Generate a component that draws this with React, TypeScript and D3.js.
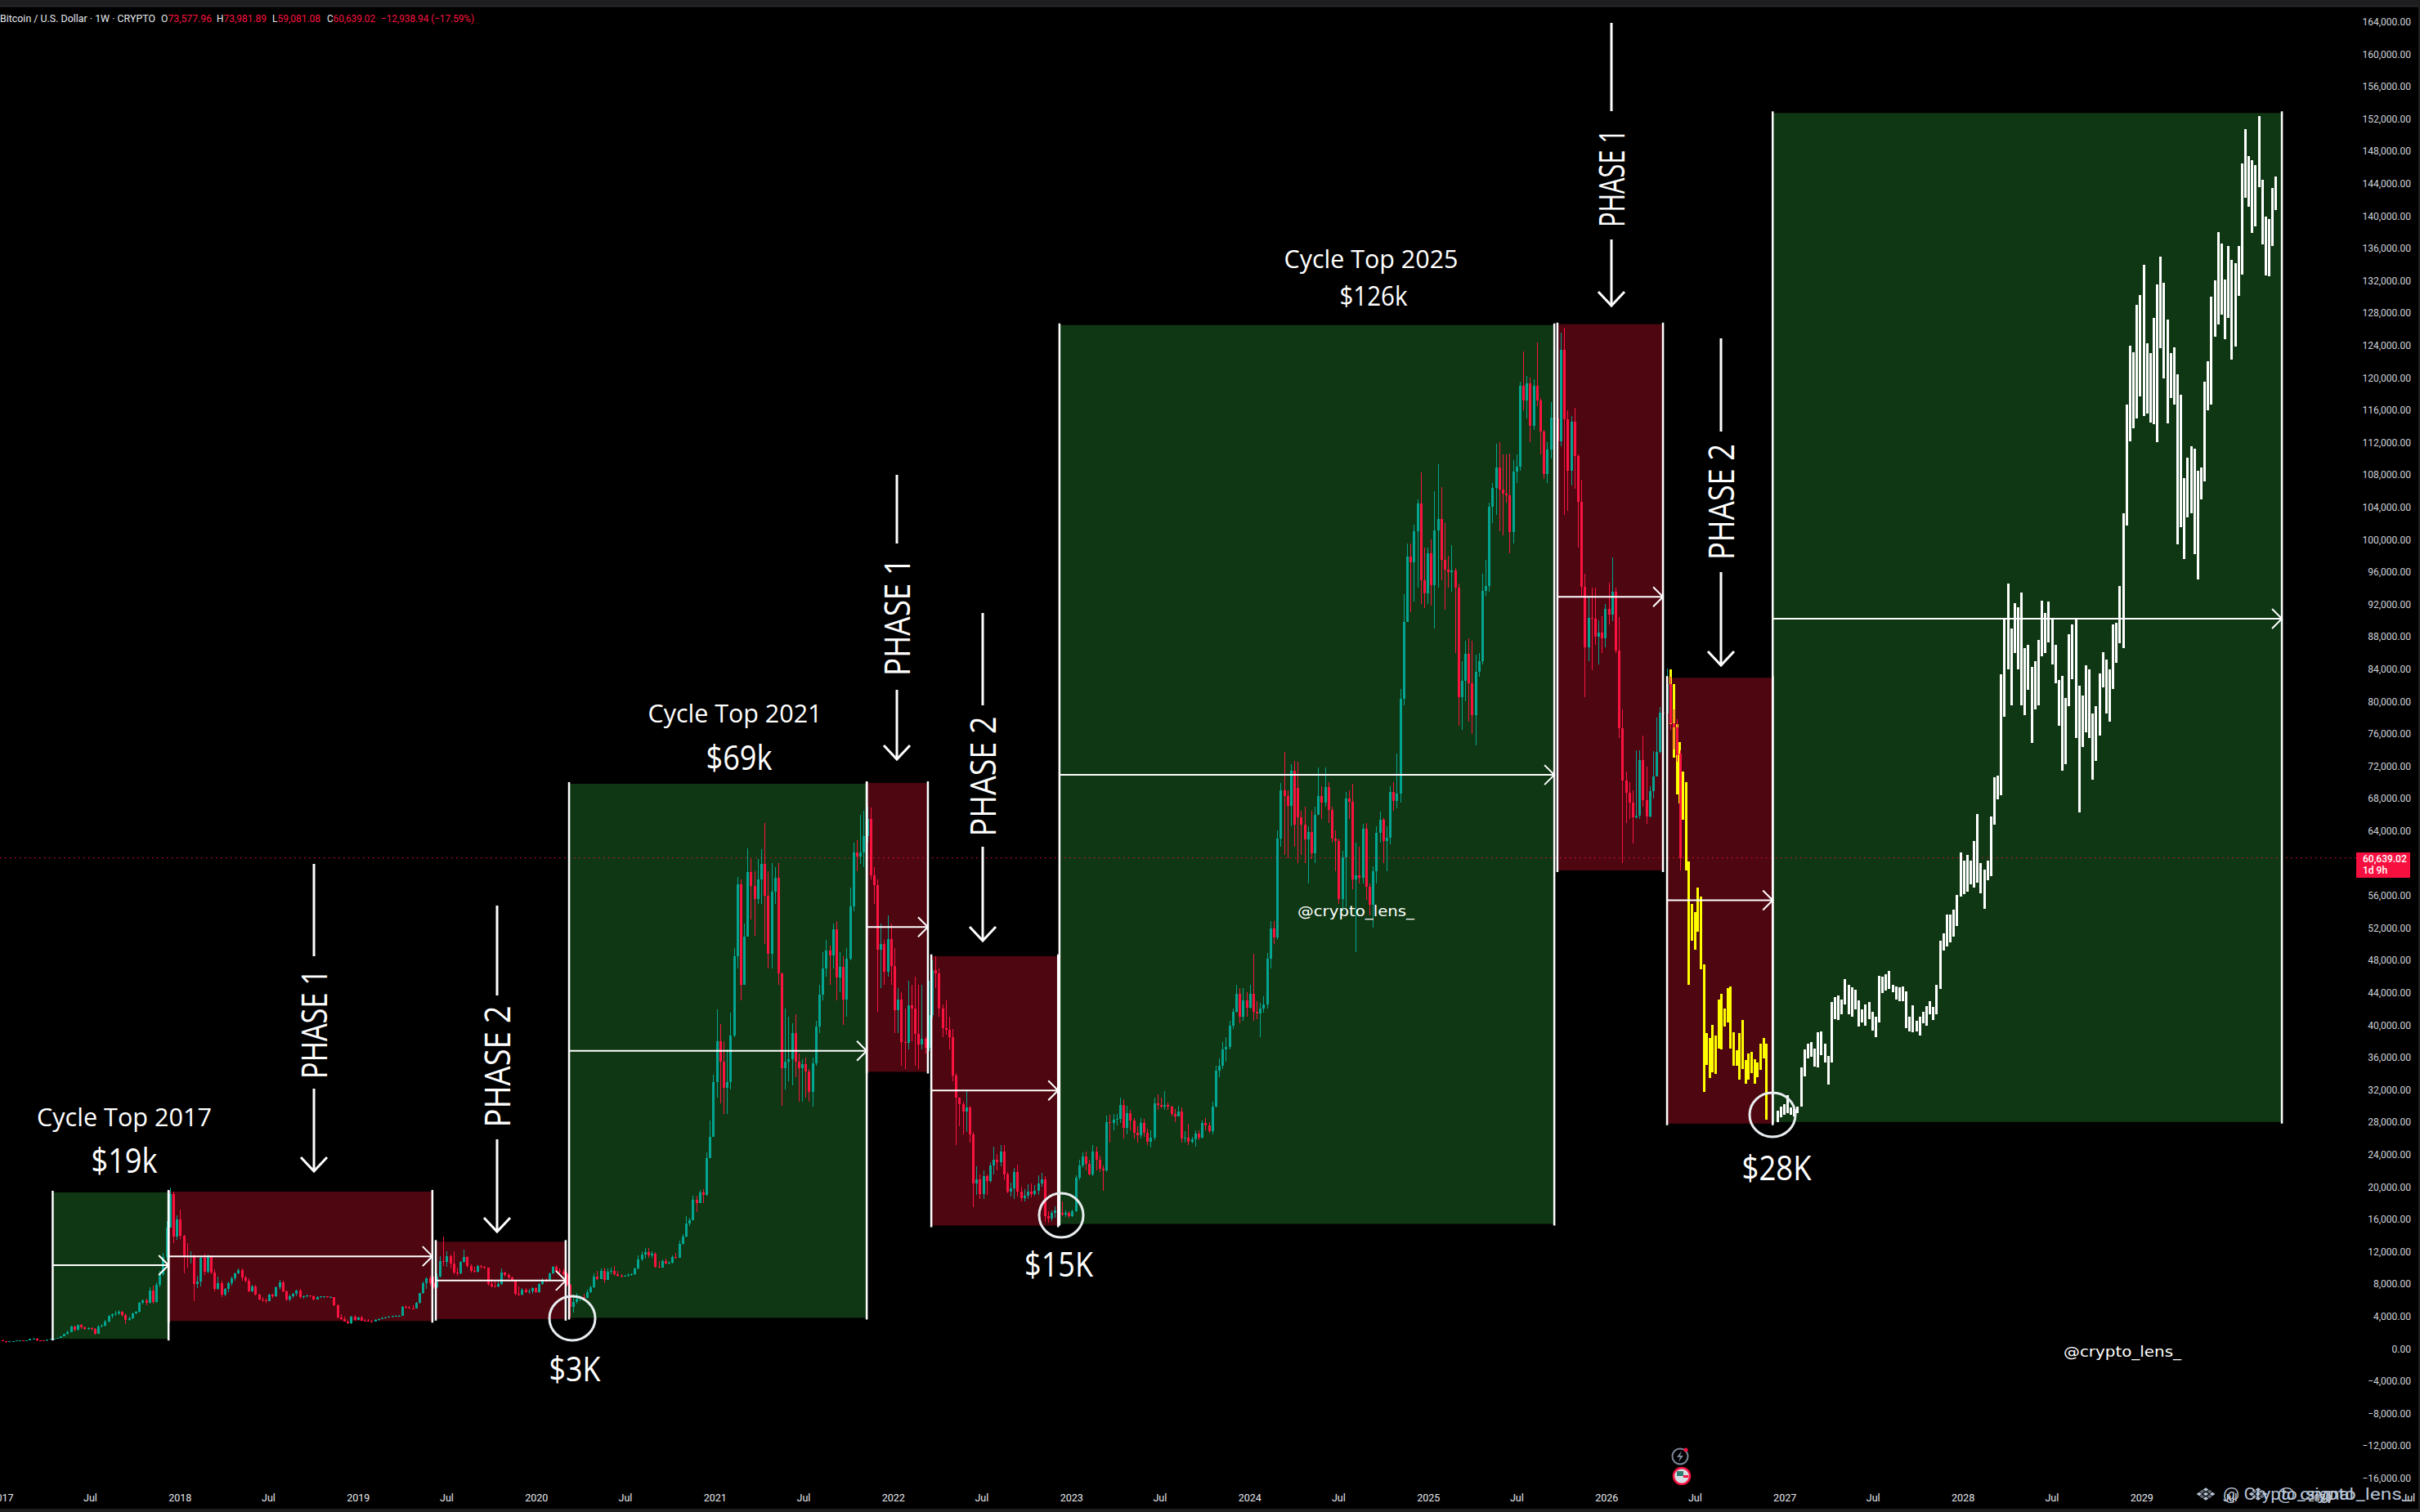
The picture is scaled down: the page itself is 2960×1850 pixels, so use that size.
import React from "react";
import * as d3 from "d3";

// weekly candles in thousands of USD: [high, low, close, open?]
// open defaults to the previous close
type Candle = [number, number, number, number?];

const bull2017: Candle[] = [
  [1.13,.88,.91],[.93,.75,.82],[.92,.8,.89],[.93,.87,.92],[1.03,.91,1.01],[1.06,.98,1.03],[1.06,.97,1.0],[1.06,.99,1.05],[1.2,1.04,1.18],[1.29,1.1,1.25],
  [1.3,.95,1.0],[1.05,.9,.97],[1.0,.89,.96],[1.1,.95,1.08],[1.22,1.07,1.2],[1.26,1.15,1.24],[1.35,1.2,1.32],[1.55,1.3,1.53],[1.85,1.5,1.8],[2.2,1.75,2.05],
  [2.8,2.0,2.7],[2.85,2.1,2.35],[2.95,2.25,2.9],[3.0,2.4,2.6],[2.7,2.3,2.45],[2.65,2.35,2.55],[2.6,2.2,2.4],[2.5,1.75,1.85],[2.9,1.8,2.75],[3.0,2.6,2.85],
  [3.5,2.75,3.3],[4.1,3.2,4.0],[4.3,3.7,4.2],[4.6,4.0,4.3],[4.7,4.1,4.5],[4.6,3.9,4.1],[4.3,3.0,3.5],[3.9,3.4,3.7],[4.4,3.6,4.3],[4.6,4.2,4.5],
  [5.8,4.4,5.7],[6.1,5.5,6.0],[6.2,5.4,5.7],[7.6,5.6,7.2],[7.8,5.6,5.8],[8.2,5.7,7.9],[9.6,7.6,9.2],[11.8,9,11.3],[15.8,10.9,15],[19.9,14.9,19.1],
];

const bear2018: Candle[] = [
  [19.4,13,13.8],[16.5,13.4,16],[17.2,13.5,13.9],[14,9.3,11.4],[13,10,11.3],[12,10.5,11.4],[11.6,5.9,8],[9,7.5,8.3],[11.5,7.7,11.2],[11.7,9.1,9.5],
  [11.6,9.3,11.4],[11.5,9.2,9.4],[9.8,7.1,7.4],[8.9,7.3,8.1],[8.4,6.4,6.7],[7.5,6.5,7.4],[8.3,7,8.1],[8.9,7.8,8.7],[9.4,8.4,9.3],[9.9,9.2,9.7],
  [9.9,8.4,8.8],[9,8.2,8.4],[8.7,7,7.1],[7.9,7,7.7],[7.9,6.6,6.7],[6.8,6,6.1],[6.4,5.8,6.0],[6.2,5.7,5.9],[6.8,5.9,6.7],[6.8,6.3,6.5],
  [7.7,6.4,7.6],[8.5,7.3,8.2],[8.4,7,7.1],[7.2,5.9,6.1],[6.7,5.9,6.5],[6.9,6.3,6.8],[7.3,6.5,7.2],[7.4,6.2,6.4],[6.6,6.2,6.5],[6.7,6.3,6.55],
  [6.6,6.4,6.5],[6.6,6,6.1],[6.5,6.1,6.4],[6.5,6.3,6.42],[6.5,6.3,6.45],[6.5,6.3,6.35],[6.45,6.3,6.4],[6.4,5.3,5.4],[5.5,3.7,3.8],[4.2,3.5,3.6],
  [3.9,3.3,3.35],[3.5,3.05,3.1],[4.0,3.05,3.9],[4.1,3.4,3.5],[3.9,3.5,3.85],[4.0,3.4,3.45],[3.6,3.3,3.4],[3.65,3.35,3.38],[3.5,3.3,3.35],[3.6,3.3,3.5],
  [3.7,3.4,3.65],[3.95,3.6,3.75],[3.9,3.7,3.85],[4,3.8,3.9],[4.05,3.85,4],[4.1,3.9,4.05],[4.1,3.95,4.07],[5.3,4,5.2],[5.4,4.9,5.1],[5.3,4.9,5.0],
  [5.4,4.8,4.95],[5.8,4.9,5.7],[6.9,5.6,6.9],[8.3,6.8,8.1],[8.8,7.4,8.7],[9,7.8,8.1],[8.9,7.4,7.6],[9.3,7.5,8.9],[11.4,8.8,10.8],[13.8,10.2,10.7],
];

const range2019: Candle[] = [
  [12,10.1,11.4],[11.6,9.9,10.5],[12,9.2,9.4],[10,9,9.3],[10.8,9.2,10.7],[12.2,10.6,11.3],[11.4,10,10.2],[10.4,9.4,9.6],[10.1,9.4,9.5],[10.3,9.4,10.2],
  [10.3,9.9,10.1],[10.2,9.8,9.95],[10,7.8,8],[8.6,7.6,7.7],[8.5,7.6,7.65],[8.3,7.6,8],[9.9,7.9,9.4],[9.5,8.9,9.1],[9.3,8.6,8.8],[8.9,8.3,8.4],
  [8.5,6.6,6.8],[7.7,6.5,6.7],[7.5,6.6,7.3],[7.5,6.9,7],[7.4,6.8,7.1],[7.6,6.8,7.5],[7.6,6.9,7],[8.1,6.9,8],[8.7,7.9,8.5],[8.7,8.2,8.4],
  [9.4,8.3,9.3],[10.2,9.2,10.1],[10.3,9.5,9.6],[9.9,9.2,9.5],[9.8,9,9.2],[9.4,7.7,7.9],
];

const bull2020: Candle[] = [
  [8,3.8,5.2],[6.7,4.4,5.8],[6.9,5.6,6.2],[6.6,5.9,6.4],[6.8,6.2,6.3],[7.3,6.3,7],[7.8,6.9,7.6],[9.3,7.5,8.9],[9.6,8.5,8.6],[9.9,8.6,9.6],
  [10,8.1,8.5],[9.9,8.5,9.5],[10,9.2,9.6],[10.2,9,9.2],[9.6,8.9,9],[9.2,8.8,8.9],[9.1,8.9,9],[9.3,8.9,9.1],[9.3,9,9.2],[10,9.1,9.9],
  [11.5,9.8,11],[12,10.8,11.6],[12.4,11.1,11.9],[12.4,11.2,11.5],[12,11.2,11.7],[11.9,10,10.1],[10.8,10,10.05],[11,10,10.8],[11.1,10.4,10.5],[10.8,10.4,10.6],
  [11.5,10.5,11.3],[11.8,11.1,11.2],[13.3,11.2,12.9],[14.1,12.8,13.8],[16.4,13.7,15.5],[16.2,15.2,15.9],[18.9,15.9,18.4],[18.9,16.9,18],[19.6,18,19.3],[19.7,18,19],
  [24.2,18.9,23.5],[28.2,23.6,26.2],[33.8,26.2,32.9],[41.9,31,38],[40.1,30.3,35.5],[38,29,32.2],[37,29,32.9],[41.5,32,38.7],[49.5,38.5,48.5],[58.3,47,57.4],
  [58,43,45],[52.5,45,50.9],[61.8,50.9,58.9],[60.5,53,57.2],[59,51,55.6],[60.5,55,58],[61.7,55,59.9],[64.9,50,56],[59,47,48.8],[60,47,56.5],
  [59.5,55,58.2],[60,45,46.4],[46.5,30,34.6],[42,32,35.5],[41,33,35.8],[40.2,32.5,39],[41.3,33.5,35.5],[36.5,30.5,34.6],[35.8,30.5,35.2],[36,31,34.2],
  [34.5,30.5,31.7],[36,29.9,35.3],[40.5,35,39.8],[45,39,43.7],[49,43,47],[50.5,46,49.2],[49.8,45,48.6],[52.5,47,51.8],[52.8,43,45.9],[49,44,47.2],
  [48.5,40,43.1],[49.5,41,48.2],[57,48,54.6],[62.5,54,61.3],[62.8,59,60.8],[66,59.9,61.3],[66.5,59.5,63.3],[67,62.5,65.5],[66.9,58,58.5],[59.5,55,57.3],
  [58,41.6,49.3],[52.5,44.5,50],[50.5,45,46.6],[53.5,46,50.6],[52.5,45,47.3],[49.5,39,41.8],[44.5,39,43.1],[44,35,37.9],[42,34.5,37.8],[45.5,37,42.4],
  [45,38,42],[46,35,38.9],[45,34.5,37.6],[45,37,38.3],[38.5,36.5,37.2],[45.5,36.8,41.2],
];

const bear2022: Candle[] = [
  [48,40.8,46.8],[48.5,44.5,46.4],[47,41,42],[42.5,38.5,39.6],[43,38.8,39.4],[41,37,38.5],[39.5,33,33.7],[34,25.2,31],[31,27.5,30.2],[30.5,26.5,29.3],
  [32,26.8,29.8],[30,25.5,26.5],[26.8,17.5,20.4],[22.5,19,20.9],[21.5,18.5,19.1],[22,18.5,21.3],[21.5,19,20.7],[23,20.5,22.6],[25,21.5,23.3],[24,22,23],
  [25.2,22.5,24.3],[25.2,20.8,21.5],[21.8,19.2,19.4],[20.5,18.8,19.8],[22.3,18.5,21.8],[22.7,18.8,19.4],[20,18.2,18.6],[19.7,18.2,18.9],[20.3,18.5,19.4],[20.4,18.7,19.1],
  [20.2,18.9,19.5],[21.4,19,20.4],[21.7,20,20.9],[21.3,15.7,16.4],[17,15.6,16.1],[17.1,15.8,16.8],[17.6,16.2,17.1],[18,16.5,16.8],[18.2,16.4,16.6],[17.1,16.3,16.8],
  [17,16.2,16.4],[17.2,16.3,17],
];

const bull2023: Candle[] = [
  [21.4,16.9,21.1],[23.3,20.8,22.6],[24.2,22.3,23.7],[24.3,22,22.8],[23.3,21.4,21.5],[25.2,21.3,24.3],[25,22,23.3],[23.8,21.8,22.2],[22.6,19.5,22],[28.8,21.8,28],
  [28.9,25.5,27.9],[29,27,28.3],[29,27.6,28.4],[31,27.9,30.1],[30.8,26,27.3],[30,26.5,29.1],[29.5,27,28.2],[28.5,26,26.7],[27.5,25.5,26.4],[28.5,26,27.9],
  [28.4,26.2,26.7],[27.2,25.2,25.6],[27,24.8,26.1],[31,25.8,30.3],[31.4,29.5,30.1],[31,29.7,29.9],[31.8,29.5,30.1],[30.4,29.5,29.9],[30,28.7,29],[29.6,28,28.7],
  [30,28.7,29.3],[29.8,25.5,26],[26.9,25.5,26.05],[27.8,25.2,25.6],[26.2,25.4,25.85],[27,25,26.6],[27,25.8,26.1],[28.2,26,27.9],[28.5,27,27.6],[28,26.7,26.9],
  [30.5,26.5,29.9],[35,29.8,34.3],[35.9,33.5,34.9],[37.9,34.5,37],[38.5,35.5,37.3],[40.5,37,39.9],[42,39.5,41.6],[45,41.5,43.8],[44.5,40.2,41],[44.5,40.5,43],
  [44,41,42.1],[45,42,43.8],[48.8,40.5,41.6],[42.9,40.7,41.4],[42.7,38.5,42],[43.5,41.5,42.5],[48.9,42,48.2],[52.8,47,51.9],[52.8,50,50.8],[64,50.5,63],
  [69.9,62,69],[73.7,61,68.3],[69,60.6,67.1],[72.2,64.5,71.4],[72.6,62,64.7],[72.5,60,65.7,69.3],[66.5,61,64.7,65.7],[67,60,62.9],[64.5,57.5,63.8],[66.5,60.5,61.2],
  [67,60,66],[71.8,66,68.3],[69.5,65.5,67.5],[71.8,67,69.4],[70,65,66.6],[67,62.5,63],[64,59,62.7],[63,55,55.6],[61.5,54,60.7],[68.8,54.5,68],
  [69,65.5,67.6],[69.8,56.8,58],[62.5,49,58.5],[62,57.5,58.2],[64.8,57.5,64.2],[65,55.5,57.1],[57.5,53.5,54.8],[59.6,52,59],[64.5,57.5,63.7],[66.4,62.5,65.4],
  [65.6,60,62.7],[64.5,59,63.1],[69.5,62.3,68.8],[70,66.5,67.7],[73.5,66.8,68.6],[81.5,67.5,80.3],[93.2,79.5,89.8],[99.5,90,97.9],[99.5,91,97.2],[101.8,92.3,101],
  [105,94,104.4],[108.3,92,95],[99,91.5,93.3],[99,92,98.3],[100,91.8,94.3],[106,89,101.1],[109.3,94,102.5],[106.5,95,97.5],[102,91.3,96.3],[98,94,96],
  [99.3,93.5,96.2],[96.5,86,94],[94.5,77,80.5],[85,76.5,82.5],[87.5,80,85.9],[87.8,77.5,82.2],[87.5,76,78.3],[85.8,74.5,83.6],[86,83,85],[95.8,84.5,93.6],
  [97.5,93,94.2],[104.5,93.5,104],[107,102,106.4],[111.8,103,108.9],[112,101,106.2],[110.5,100.5,105.7],[110.5,104.5,105.5],[110.6,98.3,100.9],[109.8,99.5,108.4],[110.5,107,109],
  [119.5,108.5,119],[123.2,116,117.2],[120.2,115,119.3],[120,112,114],[119.8,113.5,119],[124.3,116.5,117.2],[117.5,110.5,113.3],[113.5,107.5,108.1],[112,107,111.1],[117,110,115.1],
  [118,114.4,115],[115.3,108.6,112.1],
];

const bear2025: Candle[] = [
  [125.6,111.5,123.4],[126.2,103,114.8],[116,103.5,108.5],[115.3,106.7,114.5],[116.3,106.3,110.3],[110.5,99,104.6],[107.4,93,94.1],[95.8,80.5,86.7],[93,85,90.3],[94,83.8,90.2],
  [94,87,88],[90,84.5,88.5],[90.5,86,87.8],[92,86.7,91.4],[94.6,89.5,90.7],[97.8,89.9,93.5],[94,86,86.3],[90.4,75.5,76.7],[79,60,70.2],[71.3,65,68.7],
  [70,65.5,67.5],[69,62.4,65.7],[73.9,65.5,65.9],[73.9,65.5,72.7],[75.8,67,67.8],[71.9,64.8,65.8],[69.5,65.7,68.9],[73.8,68,70.7],[78,70.7,73.7],[79.3,73.5,78.6],
  [79.4,75,78.5],[84,78,82.1],[83,76.5,77.3],[79,74,76.8],[77.8,72.5,73.3],[73.98,59.08,60.64,73.58],
];

// pasted projection bars, [high, low]
const yellowBars: [number, number][] = [
  [83.9,77.2],[82.1,73],[77.2,68.5],[75,67.4],[71.3,65.4],[70,59.1],[60.2,44.9],[55,50.4],[53.9,49.3],[57,51.5],[55.9,46.9],
  [47.5,31.7],[39,35.1],[38.4,33.4],[40,34.1],[38.7,33.9],[43.1,37.1],[43.8,37],[42,39.8],[44.5,40.3],[44.7,37.1],[39.1,35],
  [36.9,34.9],[39,33.2],[40.6,34.5],[35.7,32.7],[36.5,33.2],[36.7,34],[35.8,32.7],[35.4,33.5],[37.7,34.4],[38.4,35.9],[37.7,28.3],
];

const whiteBars: [number, number][] = [
  [29.4,28],[29.9,28.6],[30.2,28.9],[31.3,29.1],[29.8,28.9],[29.6,28.7],[29.9,29.1],[34.7,29.9],[37,33.6],[37.7,35.9],
  [37.9,36.1],[37.1,34.8],[39.1,34.7],[39.2,36.3],[37.7,35.4],[36.2,32.6],[42.8,35.4],[43.4,40.7],[43.6,40.6],[43.1,41.3],
  [45.7,42.5],[45,41.3],[44.6,41],[44.3,41.9],[43,39.8],[41.9,40.3],[42.5,39.9],[42.8,40.7],[41.6,39.3],[41,38.5],
  [46.1,40.3],[46,43.9],[46.3,44.2],[46.7,44.4],[45,44],[44.7,43.1],[44.6,42.9],[44.7,42.9],[44.1,39.6],[41,39.2],
  [42.4,39.1],[40.5,39.2],[41,38.7],[41.6,40.2],[42.3,39.9],[42.9,41.3],[42.2,40.6],[45,41.3],[50.4,44.4],[51.3,49.2],
  [53.6,49.7],[53.6,50.2],[54.2,50.9],[56.1,52.2],[61.3,55.9],[60.3,56.2],[61,56.5],[60.3,57.4],[62.7,57],[66.1,57.6],
  [60,56.3],[59.2,54.3],[60.3,57.9],[65.8,58.4],[70.6,64.7],[70.8,67.9],[83.3,68.4],[90.1,78.1],[94.5,83.9],[89,79.5],
  [92.1,86],[91.6,83.9],[93.4,79.5],[86.6,78.3],[87,81.4],[84.2,74.8],[85,79],[87.6,79.5],[92.4,85.6],[90.9,86],
  [92.3,87.3],[90.1,84.5],[87,82.2],[82.6,77],[83.1,71.4],[80.4,72.2],[88.3,79.4],[89.5,82.7],[90.1,75.5],[81.9,66.3],
  [80.7,74.3],[84.4,76.2],[83.9,75.5],[78.5,70.3],[79.4,72.6],[83.4,75.8],[86.1,81.7],[85.2,78.5],[83.9,77.5],[89.5,81.5],
  [89.7,84.7],[94.2,87.2],[103.2,86.6],[116.7,101.7],[123.9,112.1],[123.1,113.7],[129,115],[130.2,117.7],[133.9,115.3],[124.2,115.6],
  [123,114.4],[127.4,114.2],[131.5,112],[135,123.6],[131.7,119.9],[127.2,114.3],[123,117.5],[123.7,116.7],[120.4,99.4],[117.9,101.5],
  [107.6,97.6],[110.1,102.7],[111.5,103.2],[111.2,98.2],[108.5,95.1],[108.9,104.9],[119.5,107.2],[122,116],[130,116.7],[132,125.1],
  [138,126.6],[136.6,127.8],[132.1,124.7],[136.3,127.4],[134.5,122.2],[134.1,123.8],[136.3,130.1],[146.5,132.7],[150.7,142.2],[147.4,141.1],
  [146.9,137.9],[146.3,138.7],[152.3,143.5],[144.4,136.5],[139.9,132.6],[139.6,132.5],[143.4,136.3],[144.8,140.7],
];

// cycle boxes: week index from/to, price top/bottom, price of the middle arrow
const cycleBoxes = [
  { kind: "up", from: 14.7, to: 48.6, top: 19.3, bottom: 1.2, mid: 10.3 },
  { kind: "down", from: 48.6, to: 125.8, top: 19.4, bottom: 3.4, mid: 11.4 },
  { kind: "down", from: 126.8, to: 164.8, top: 13.2, bottom: 3.65, mid: 8.4 },
  { kind: "up", from: 165.8, to: 252.9, top: 69.8, bottom: 3.8, mid: 36.8 },
  { kind: "down", from: 252.9, to: 270.8, top: 69.9, bottom: 34.2, mid: 52.1 },
  { kind: "down", from: 271.8, to: 308.9, top: 48.5, bottom: 15.2, mid: 31.9 },
  { kind: "up", from: 309.3, to: 454.1, top: 126.5, bottom: 15.4, mid: 70.9 },
  { kind: "down", from: 455, to: 485.9, top: 126.6, bottom: 59.1, mid: 92.9 },
  { kind: "down", from: 487.1, to: 518, top: 82.9, bottom: 27.8, mid: 55.4 },
  { kind: "up", from: 518, to: 667, top: 152.7, bottom: 28, mid: 90.2 },
];

const yearTicks = d3.range(2017, 2031);
const priceTicks = d3.range(-16, 165, 4);

const startDate = new Date(2017, 0, 2);
const msWeek = 7 * 24 * 3600 * 1000;

const width = 2960;
const height = 1850;

const weekX = d3.scaleLinear().domain([0, 100]).range([3, 421]);
const priceY = d3.scaleLinear().domain([0, 164]).range([1650, 26.4]);
const yellowX = d3.scaleLinear().domain([0, yellowBars.length - 1]).range([2043.3, 2160.3]);
const whiteX = d3.scaleLinear().domain([0, whiteBars.length - 1]).range([2173.5, 2783.3]);
const dateX = (d: Date) => weekX((d.getTime() - startDate.getTime()) / msWeek);

const upColor = "#02a592";
const downColor = "#fb1340";
const phaseFont = "'Open Sans', sans-serif";
const axisFont = "Roboto, sans-serif";

const candles = [...bull2017, ...bear2018, ...range2019, ...bull2020, ...bear2022, ...bull2023, ...bear2025].map(
  (c, i, all) => {
    const open = c[3] !== undefined ? c[3] : i === 0 ? 0.96 : all[i - 1][2];
    return { i, high: c[0], low: c[1], close: c[2], open };
  }
);

const axisLabels = yearTicks.flatMap((y) => [
  { date: new Date(y, 0, 1), label: d3.timeFormat("%Y")(new Date(y, 0, 1)) },
  { date: new Date(y, 6, 1), label: d3.timeFormat("%b")(new Date(y, 6, 1)) },
]);

const fmtPrice = (k: number) => d3.format(",.2f")(k * 1000).replace("-", "\u2212");

const phases = [
  { label: "PHASE 1", x: 384, top: 1057, lineEnd: 1170, textMid: 1253, len: 134, shaft: 1332, tip: 1433 },
  { label: "PHASE 2", x: 608, top: 1108, lineEnd: 1218, textMid: 1305, len: 149, shaft: 1394, tip: 1507 },
  { label: "PHASE 1", x: 1097, top: 581, lineEnd: 665, textMid: 755, len: 144, shaft: 844, tip: 929 },
  { label: "PHASE 2", x: 1202, top: 750, lineEnd: 863, textMid: 950, len: 147, shaft: 1036, tip: 1151 },
  { label: "PHASE 1", x: 1971, top: 28, lineEnd: 136, textMid: 218, len: 120, shaft: 293, tip: 374 },
  { label: "PHASE 2", x: 2105, top: 414, lineEnd: 528, textMid: 614, len: 142, shaft: 700, tip: 814 },
];

const bigLabels = [
  { text: "Cycle Top 2017", x: 152, y: 1378, size: 31, len: 214 },
  { text: "$19k", x: 152, y: 1435, size: 42, len: 81 },
  { text: "Cycle Top 2021", x: 899, y: 884, size: 31, len: 213 },
  { text: "$69k", x: 904, y: 942, size: 42, len: 81 },
  { text: "Cycle Top 2025", x: 1677, y: 328, size: 31, len: 213 },
  { text: "$126k", x: 1680, y: 374, size: 33, len: 83 },
  { text: "$3K", x: 703, y: 1690, size: 42, len: 63 },
  { text: "$15K", x: 1295, y: 1562, size: 42, len: 84 },
  { text: "$28K", x: 2173, y: 1444, size: 42, len: 85 },
];

const lows = [
  { x: 700, y: 1613, rx: 28, ry: 27 },
  { x: 1298, y: 1487, rx: 27, ry: 27 },
  { x: 2168, y: 1364, rx: 28, ry: 27 },
];

const ohlcLabels = [
  { key: "O", value: "73,577.96", x: 197, len: 62 },
  { key: "H", value: "73,981.89", x: 265, len: 61 },
  { key: "L", value: "59,081.08", x: 333, len: 59 },
  { key: "C", value: "60,639.02", x: 400, len: 59 },
];

const Diamond = ({ x, y }: { x: number; y: number }) => (
  <g transform={`translate(${x},${y}) scale(1,0.68)`} fill="#b7c3d6">
    {[[0, 0], [-8, 0], [8, 0], [0, -8], [0, 8], [-4.5, -4.5], [4.5, -4.5], [-4.5, 4.5], [4.5, 4.5]].map((o, i) => (
      <rect key={i} x={o[0] - 2.4} y={o[1] - 2.4} width={4.8} height={4.8} transform={`rotate(45 ${o[0]} ${o[1]})`} opacity={i > 4 ? 0.55 : 1} />
    ))}
  </g>
);

const App = () => {
  return (
    <svg
      width={width}
      height={height}
      style={{ position: "absolute", left: 0, top: 0, display: "block", background: "#000" }}
    >
      <rect width={width} height={height} fill="#000" />

      {cycleBoxes.map((b, i) => (
        <rect
          key={i}
          x={weekX(b.from)}
          y={priceY(b.top)}
          width={weekX(b.to) - weekX(b.from)}
          height={priceY(b.bottom) - priceY(b.top)}
          fill={b.kind === "up" ? "#0f3713" : "#4e0610"}
        />
      ))}

      <line x1={0} x2={2882} y1={priceY(60.639)} y2={priceY(60.639)} stroke="#f7103f" strokeDasharray="1.5 4.5" strokeWidth={1} />

      <g shapeRendering="crispEdges">
        {yellowBars.map((b, i) => (
          <rect key={i} x={Math.round(yellowX(i)) - 1} width={3} y={priceY(b[0])} height={priceY(b[1]) - priceY(b[0])} fill="#ffff00" />
        ))}
        {whiteBars.map((b, i) => (
          <rect key={i} x={Math.round(whiteX(i)) - 1} width={3} y={priceY(b[0])} height={priceY(b[1]) - priceY(b[0])} fill="#ffffff" />
        ))}

        {candles.map((c) => {
          const color = c.close >= c.open ? upColor : downColor;
          const x = Math.round(weekX(c.i));
          const top = priceY(Math.max(c.open, c.close));
          const bottom = priceY(Math.min(c.open, c.close));
          return (
            <g key={c.i}>
              <rect x={x} width={1} y={priceY(c.high)} height={priceY(c.low) - priceY(c.high)} fill={color} />
              <rect x={x - 1} width={3} y={top} height={Math.max(bottom - top, 1)} fill={color} />
            </g>
          );
        })}
      </g>

      {cycleBoxes.map((b, i) => {
        const x0 = weekX(b.from);
        const x1 = weekX(b.to);
        const y0 = priceY(b.top) - 2;
        const y1 = priceY(b.bottom) + 2;
        const ym = priceY(b.mid);
        return (
          <g key={i} stroke="#fff" fill="none">
            <line x1={x0} x2={x0} y1={y0} y2={y1} strokeWidth={2.5} />
            <line x1={x1} x2={x1} y1={y0} y2={y1} strokeWidth={2.5} />
            <line x1={x0} x2={x1} y1={ym} y2={ym} strokeWidth={2} />
            <path d={`M${x1 - 12},${ym - 12} L${x1},${ym} L${x1 - 12},${ym + 12}`} strokeWidth={2} />
          </g>
        );
      })}

      {phases.map((p, i) => (
        <g key={i}>
          <g stroke="#fff" strokeWidth={3} fill="none">
            <line x1={p.x} x2={p.x} y1={p.top} y2={p.lineEnd} />
            <line x1={p.x} x2={p.x} y1={p.shaft} y2={p.tip} />
            <path d={`M${p.x - 16},${p.tip - 17} L${p.x},${p.tip} L${p.x + 16},${p.tip - 17}`} />
          </g>
          <text
            transform={`translate(${p.x + 16},${p.textMid}) rotate(-90)`}
            textAnchor="middle"
            fill="#fff"
            fontFamily={phaseFont}
            fontSize={44}
            fontWeight={500}
            textLength={p.len}
            lengthAdjust="spacingAndGlyphs"
          >
            {p.label}
          </text>
        </g>
      ))}

      {bigLabels.map((l, i) => (
        <text
          key={i}
          x={l.x - l.len / 2}
          y={l.y}
          fill="#fff"
          fontFamily={phaseFont}
          fontSize={l.size}
          fontWeight={l.size > 35 ? 500 : 400}
          textLength={l.len}
          lengthAdjust="spacingAndGlyphs"
        >
          {l.text}
        </text>
      ))}

      {lows.map((c, i) => (
        <ellipse key={i} cx={c.x} cy={c.y} rx={c.rx} ry={c.ry} fill="none" stroke="#e8edf0" strokeWidth={3} />
      ))}

      <text x={1587} y={1121} fill="#fff" fontFamily="'DejaVu Sans', sans-serif" fontSize={18} textLength={143} lengthAdjust="spacingAndGlyphs">
        @crypto_lens_
      </text>
      <text x={2524} y={1660} fill="#fff" fontFamily="'DejaVu Sans', sans-serif" fontSize={18} textLength={144} lengthAdjust="spacingAndGlyphs">
        @crypto_lens_
      </text>

      {/* chart chrome */}
      <rect x={0} y={0} width={width} height={7} fill="#1e1e21" />
      <rect x={0} y={7} width={width} height={1.5} fill="#2a2a2e" />
      <rect x={2958} y={0} width={2} height={height} fill="#1e1e21" />
      <rect x={0} y={1846} width={width} height={4} fill="#1e1e21" />

      <g fontFamily="'Liberation Sans Narrow', Roboto, sans-serif" fontSize={13.5}>
        <text x={0} y={27} fill="#e6e8ee" textLength={190} lengthAdjust="spacingAndGlyphs">
          Bitcoin / U.S. Dollar · 1W · CRYPTO
        </text>
        {ohlcLabels.map((o) => (
          <text key={o.key} x={o.x} y={27} fill="#e6e8ee" textLength={o.len} lengthAdjust="spacingAndGlyphs">
            {o.key}
            <tspan fill={downColor}>{o.value}</tspan>
          </text>
        ))}
        <text x={466} y={27} fill={downColor} textLength={114} lengthAdjust="spacingAndGlyphs">−12,938.94 (−17.59%)</text>
      </g>

      <g fontFamily={axisFont} fontSize={12} fill="#d1d4dc" textAnchor="end">
        {priceTicks.filter((t) => t !== 60).map((t) => (
          <text key={t} x={2949} y={priceY(t) + 4.5}>
            {fmtPrice(t)}
          </text>
        ))}
      </g>

      <rect x={2882} y={1043} width={66} height={31} fill="#f7103f" />
      <g fontFamily={axisFont} fontSize={12} fontWeight={500} fill="#fff">
        <text x={2890} y={1055}>60,639.02</text>
        <text x={2890} y={1069}>1d 9h</text>
      </g>

      <g fontFamily={axisFont} fontSize={12.5} fill="#e6e8ee" textAnchor="middle">
        {axisLabels.map((t, i) => (
          <text key={i} x={dateX(t.date)} y={1837}>
            {t.label}
          </text>
        ))}
      </g>

      <circle cx={2055} cy={1782} r={9.5} fill="none" stroke="#7c8798" strokeWidth={2} />
      <path d="M2057,1775 L2051,1783 L2055,1783 L2053,1789 L2059,1781 L2055,1781 Z" fill="#7c8798" />
      <circle cx={2062} cy={1774} r={2.5} fill="#f7103f" />
      <circle cx={2057} cy={1806} r={10} fill="#d8dde4" stroke="#f7103f" strokeWidth={2.5} />
      <rect x={2051} y={1800} width={8} height={6} fill="#2f7d70" />
      <rect x={2059} y={1805} width={6} height={3} fill="#f7103f" />

      <Diamond x={2698} y={1828} />
      <Diamond x={2762} y={1828} />
      <g fontFamily={axisFont} fontSize={20} fill="#b7c3d6">
        <text x={2719} y={1835} textLength={160} lengthAdjust="spacingAndGlyphs">@ Crypto_signal</text>
        <text x={2785} y={1835} textLength={164} lengthAdjust="spacingAndGlyphs">@ crypto_lens_</text>
      </g>
    </svg>
  );
};

export default App;
